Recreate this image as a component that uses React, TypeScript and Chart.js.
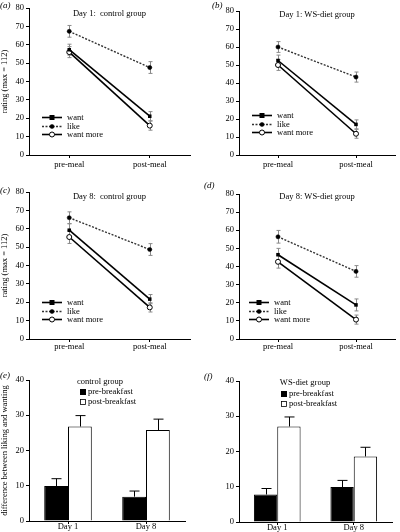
import React, { useEffect, useRef } from "react";
import { Chart, registerables } from "chart.js";

Chart.register(...registerables);

const FONT = "'Liberation Serif', 'DejaVu Serif', serif";

// ---------- data ----------
const mealCategories = ["pre-meal", "post-meal"];
const dayCategories = ["Day 1", "Day 8"];
const ratingTicks = [0, 10, 20, 30, 40, 50, 60, 70, 80];
const diffTicks = [0, 10, 20, 30, 40];

// (a) Day 1: control group
const aWant = [57.3, 21.1];
const aLike = [67.3, 47.6];
const aWantMore = [56.0, 16.0];
const aWantErr = [3.0, 2.5];
const aLikeErr = [3.2, 3.2];
const aWantMoreErr = [3.0, 2.5];

// (b) Day 1: WS-diet group
const bWant = [52.5, 17.0];
const bLike = [60.0, 43.3];
const bWantMore = [50.0, 11.8];
const bWantErr = [3.0, 2.5];
const bLikeErr = [3.0, 2.8];
const bWantMoreErr = [3.0, 2.5];

// (c) Day 8: control group
const cWant = [59.2, 21.7];
const cLike = [66.0, 48.7];
const cWantMore = [55.5, 17.2];
const cWantErr = [3.5, 2.5];
const cLikeErr = [3.2, 3.2];
const cWantMoreErr = [3.5, 2.5];

// (d) Day 8: WS-diet group
const dWant = [46.5, 18.8];
const dLike = [56.4, 37.3];
const dWantMore = [42.6, 10.7];
const dWantErr = [3.5, 3.3];
const dLikeErr = [3.5, 3.2];
const dWantMoreErr = [3.5, 2.5];

// (e) control group: difference between liking and wanting
const ePre = [9.9, 6.9];
const ePost = [26.8, 25.8];
const ePreErr = [2.1, 1.6];
const ePostErr = [3.1, 3.1];

// (f) WS-diet group
const fPre = [7.8, 9.9];
const fPost = [27.1, 18.6];
const fPreErr = [1.7, 1.9];
const fPostErr = [2.7, 2.6];

// ---------- drawing helpers ----------
function drawMarker(ctx: CanvasRenderingContext2D, ds: any, x: number, y: number) {
  ctx.save();
  ctx.setLineDash([]);
  if (ds.pointStyle === "rect") {
    const s = ds.pointRadius * 2;
    ctx.fillStyle = ds.pointBackgroundColor;
    ctx.fillRect(x - s / 2, y - s / 2, s, s);
  } else {
    ctx.beginPath();
    ctx.arc(x, y, ds.pointRadius, 0, Math.PI * 2);
    ctx.fillStyle = ds.pointBackgroundColor;
    ctx.fill();
    ctx.lineWidth = ds.pointBorderWidth || 1;
    ctx.strokeStyle = ds.pointBorderColor;
    ctx.stroke();
  }
  ctx.restore();
}

const decorPlugin = {
  id: "decor",
  beforeDatasetsDraw(chart: any) {
    const ctx = chart.ctx as CanvasRenderingContext2D;
    const yScale = chart.scales.y;
    const isBar = chart.config.type === "bar";
    chart.data.datasets.forEach((ds: any, di: number) => {
      if (!ds.errors) return;
      const meta = chart.getDatasetMeta(di);
      ctx.save();
      ctx.strokeStyle = isBar ? "#000" : "#8a8a8a";
      ctx.lineWidth = 1;
      ds.data.forEach((v: number, i: number) => {
        const el = meta.data[i];
        const x = Math.round(el.x) + 0.5;
        const e = ds.errors[i];
        const yTop = yScale.getPixelForValue(v + e);
        const yBot = isBar ? yScale.getPixelForValue(v) : yScale.getPixelForValue(v - e);
        const cap = isBar ? 5 : 2;
        ctx.beginPath();
        ctx.moveTo(x, yTop);
        ctx.lineTo(x, yBot);
        ctx.moveTo(x - cap, yTop);
        ctx.lineTo(x + cap, yTop);
        if (!isBar) {
          ctx.moveTo(x - cap, yBot);
          ctx.lineTo(x + cap, yBot);
        }
        ctx.stroke();
      });
      ctx.restore();
    });
  },
  afterDraw(chart: any, _args: any, opts: any) {
    const ctx = chart.ctx as CanvasRenderingContext2D;
    const ca = chart.chartArea;
    ctx.save();
    ctx.fillStyle = "#000";
    ctx.textBaseline = "middle";
    // panel label
    ctx.font = `italic 9px ${FONT}`;
    ctx.textAlign = "left";
    ctx.fillText(opts.panel, opts.panelX, opts.panelY);
    // title inside plot
    ctx.font = `8.5px ${FONT}`;
    ctx.textAlign = "center";
    ctx.fillText(opts.title, opts.titleX != null ? ca.left + opts.titleX : (ca.left + ca.right) / 2, ca.top + opts.titleY);
    ctx.textAlign = "left";
    if (opts.kind === "line") {
      chart.data.datasets.forEach((ds: any, i: number) => {
        const y = Math.round(ca.bottom + opts.legendY + i * 8.5) + 0.5;
        const x0 = ca.left + opts.legendX;
        const x1 = x0 + 20;
        ctx.save();
        ctx.strokeStyle = ds.borderColor;
        ctx.lineWidth = ds.borderWidth;
        ctx.setLineDash(ds.borderDash || []);
        ctx.beginPath();
        ctx.moveTo(x0, y);
        ctx.lineTo(x1, y);
        ctx.stroke();
        ctx.restore();
        drawMarker(ctx, ds, (x0 + x1) / 2, y);
        ctx.fillStyle = "#000";
        ctx.font = `8.5px ${FONT}`;
        ctx.fillText(ds.label, x1 + 5, y);
      });
    } else {
      chart.data.datasets.forEach((ds: any, i: number) => {
        const y = Math.round(ca.top + opts.legendY + i * 10);
        const x0 = ca.left + opts.legendX;
        ctx.save();
        ctx.fillStyle = ds.backgroundColor;
        ctx.fillRect(x0, y - 3, 6, 6);
        ctx.strokeStyle = "#000";
        ctx.lineWidth = 0.8;
        if (ds.backgroundColor !== "#000") ctx.strokeRect(x0 + 0.5, y - 2.5, 5, 5);
        ctx.restore();
        ctx.fillStyle = "#000";
        ctx.font = `8.5px ${FONT}`;
        ctx.fillText(ds.label, x0 + 8, y);
      });
    }
    ctx.restore();
  },
};

function axisCommon(axisW: number | null, axisH: number | null, pad: number) {
  return {
    grid: { display: true, drawOnChartArea: false, drawTicks: true, tickLength: 3, color: "#000", offset: false },
    border: { display: true, color: "#000", width: 1 },
    ticks: { color: "#000", font: { family: FONT, size: 8.5 }, padding: pad, maxRotation: 0, autoSkip: false },
    afterFit: (s: any) => {
      if (axisW != null) s.width = axisW;
      if (axisH != null) s.height = axisH;
    },
  };
}

type Panel = {
  kind: "line" | "bar";
  left: number; top: number; width: number; height: number;
  padTop: number; padRight: number; yAxisW: number; xAxisH: number; xPad: number;
  yTitle?: string;
  decor: any;
  data: any;
  yMax: number;
  yTicks: number[];
};

function makeLineData(want: number[], like: number[], wantMore: number[], we: number[], le: number[], wme: number[]) {
  return {
    labels: mealCategories,
    datasets: [
      { label: "want", data: want, errors: we, borderColor: "#000", borderWidth: 1.6, pointStyle: "rect", pointRadius: 2.5, pointBackgroundColor: "#000", pointBorderColor: "#000", pointBorderWidth: 0 },
      { label: "like", data: like, errors: le, borderColor: "#333", borderWidth: 1.4, borderDash: [2, 1.5], pointStyle: "circle", pointRadius: 2.1, pointBackgroundColor: "#000", pointBorderColor: "#000", pointBorderWidth: 0.5 },
      { label: "want more", data: wantMore, errors: wme, borderColor: "#000", borderWidth: 1.6, pointStyle: "circle", pointRadius: 2.5, pointBackgroundColor: "#fff", pointBorderColor: "#000", pointBorderWidth: 1 },
    ],
  };
}

function makeBarData(pre: number[], post: number[], pe: number[], poe: number[]) {
  return {
    labels: dayCategories,
    datasets: [
      { label: "pre-breakfast", data: pre, errors: pe, backgroundColor: "#000", borderColor: "#000", borderWidth: 1, categoryPercentage: 0.61, barPercentage: 1 },
      { label: "post-breakfast", data: post, errors: poe, backgroundColor: "#fff", borderColor: "#000", borderWidth: 1, categoryPercentage: 0.61, barPercentage: 1 },
    ],
  };
}

const panels: Panel[] = [
  {
    kind: "line", left: 0, top: 0, width: 200, height: 172, padTop: 8, padRight: 10, yAxisW: 29, xAxisH: 17, xPad: 2,
    yTitle: "rating (max = 112)", yMax: 80, yTicks: ratingTicks,
    data: makeLineData(aWant, aLike, aWantMore, aWantErr, aLikeErr, aWantMoreErr),
    decor: { kind: "line", panel: "(a)", panelX: 0, panelY: 6, title: "Day 1:  control group", titleY: 6, legendX: 13, legendY: -38 },
  },
  {
    kind: "line", left: 200, top: 0, width: 200, height: 172, padTop: 11, padRight: 2, yAxisW: 39, xAxisH: 17, xPad: 2,
    yMax: 80, yTicks: ratingTicks,
    data: makeLineData(bWant, bLike, bWantMore, bWantErr, bLikeErr, bWantMoreErr),
    decor: { kind: "line", panel: "(b)", panelX: 12, panelY: 6, title: "Day 1: WS-diet group", titleY: 4, legendX: 13, legendY: -40 },
  },
  {
    kind: "line", left: 0, top: 172, width: 200, height: 180, padTop: 20, padRight: 10, yAxisW: 29, xAxisH: 13, xPad: 0,
    yTitle: "rating (max = 112)", yMax: 80, yTicks: ratingTicks,
    data: makeLineData(cWant, cLike, cWantMore, cWantErr, cLikeErr, cWantMoreErr),
    decor: { kind: "line", panel: "(c)", panelX: 0, panelY: 19, title: "Day 8:  control group", titleY: 5, legendX: 13, legendY: -37 },
  },
  {
    kind: "line", left: 200, top: 172, width: 200, height: 180, padTop: 22, padRight: 2, yAxisW: 39, xAxisH: 13, xPad: 0,
    yMax: 80, yTicks: ratingTicks,
    data: makeLineData(dWant, dLike, dWantMore, dWantErr, dLikeErr, dWantMoreErr),
    decor: { kind: "line", panel: "(d)", panelX: 4, panelY: 14, title: "Day 8: WS-diet group", titleY: 3, legendX: 10, legendY: -37 },
  },
  {
    kind: "bar", left: 0, top: 352, width: 200, height: 180, padTop: 28, padRight: 15, yAxisW: 29, xAxisH: 11, xPad: -2,
    yTitle: "difference between liking and wanting", yMax: 40, yTicks: diffTicks,
    data: makeBarData(ePre, ePost, ePreErr, ePostErr),
    decor: { kind: "bar", panel: "(e)", panelX: 0, panelY: 24, title: "control group", titleX: 71, titleY: 2, legendX: 51, legendY: 12 },
  },
  {
    kind: "bar", left: 200, top: 352, width: 200, height: 180, padTop: 29, padRight: 8, yAxisW: 39, xAxisH: 10, xPad: -2,
    yMax: 40, yTicks: diffTicks,
    data: makeBarData(fPre, fPost, fPreErr, fPostErr),
    decor: { kind: "bar", panel: "(f)", panelX: 4, panelY: 25, title: "WS-diet group", titleX: 66, titleY: 2, legendX: 42, legendY: 13 },
  },
];

function PanelChart({ p }: { p: Panel }) {
  const ref = useRef<HTMLCanvasElement>(null);
  useEffect(() => {
    if (!ref.current) return;
    const xAxis: any = { type: "category", offset: true, ...axisCommon(null, p.xAxisH, p.xPad) };
    const yAxis: any = {
      type: "linear",
      min: 0,
      max: p.yMax,
      ...axisCommon(p.yAxisW, null, 2),
      afterBuildTicks: (s: any) => {
        s.ticks = p.yTicks.map((v) => ({ value: v }));
      },
      title: {
        display: !!p.yTitle,
        text: p.yTitle || "",
        color: "#000",
        font: { family: FONT, size: 8.5 },
        padding: { top: 0, bottom: 0 },
      },
    };
    const chart = new Chart(ref.current, {
      type: p.kind as any,
      data: p.data,
      options: {
        animation: false,
        responsive: false,
        maintainAspectRatio: false,
        devicePixelRatio: 1,
        layout: { padding: { top: p.padTop, right: p.padRight, left: 0, bottom: 0 } },
        plugins: {
          legend: { display: false },
          tooltip: { enabled: false },
          title: { display: false },
          decor: p.decor,
        } as any,
        scales: { x: xAxis, y: yAxis },
      },
      plugins: [decorPlugin as any],
    });
    return () => chart.destroy();
  }, [p]);
  return (
    <canvas
      ref={ref}
      width={p.width}
      height={p.height}
      style={{ position: "absolute", left: p.left, top: p.top, width: p.width, height: p.height, display: "block" }}
    />
  );
}

export default function App() {
  return (
    <div style={{ position: "absolute", left: 0, top: 0, width: 400, height: 532, background: "#fff", overflow: "hidden" }}>
      {panels.map((p, i) => (
        <PanelChart key={i} p={p} />
      ))}
    </div>
  );
}
